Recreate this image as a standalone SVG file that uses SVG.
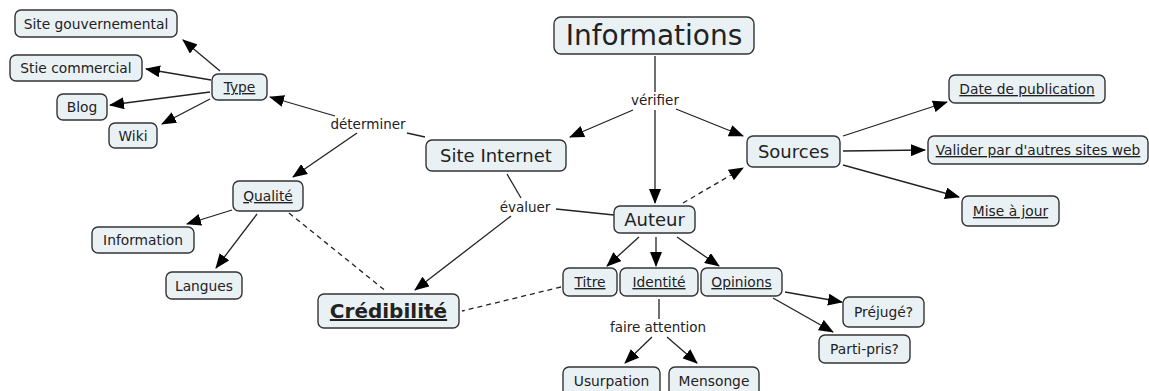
<svg xmlns="http://www.w3.org/2000/svg" width="1149" height="391" viewBox="0 0 1149 391">
<style>
.n rect{fill:#eaf1f5;stroke:#333;stroke-width:1.4}
text{font-family:"DejaVu Sans",Verdana,sans-serif;fill:#222;text-anchor:middle}
.s{font-size:13.8px}
.u{text-decoration:underline}
.m{font-size:18px}
.lbl{font-size:13.5px;fill:#222}
.c line,.c path{stroke:#222;stroke-width:1.3;fill:none}
.c .a{marker-end:url(#ah)}
.c .d{stroke-dasharray:5,4}
</style>
<defs>
<marker id="ah" markerUnits="userSpaceOnUse" markerWidth="15" markerHeight="12" viewBox="0 0 15 12" refX="14" refY="6" orient="auto">
<path d="M0,0 L15,6 L0,12 Z" fill="#000"/>
</marker>
</defs>
<rect width="1149" height="391" fill="#fff"/>
<g id="connectors" class="c">
<line x1="655" y1="56" x2="655" y2="92"/>
<line class="a" x1="633" y1="110" x2="570" y2="137"/>
<line class="a" x1="676" y1="109" x2="743" y2="136"/>
<line class="a" x1="655" y1="110" x2="655" y2="203"/>
<line x1="425" y1="137" x2="407" y2="133"/>
<line class="a" x1="335" y1="116" x2="270" y2="97"/>
<line class="a" x1="357" y1="133" x2="293" y2="177"/>
<line class="a" x1="220" y1="71" x2="183" y2="40"/>
<line class="a" x1="211" y1="80" x2="146" y2="69"/>
<line class="a" x1="210" y1="92" x2="110" y2="105"/>
<line class="a" x1="210" y1="99" x2="162" y2="124"/>
<line class="a" x1="232" y1="210" x2="187" y2="224"/>
<line class="a" x1="257" y1="214" x2="216" y2="268"/>
<line class="d" x1="289" y1="213" x2="387" y2="292"/>
<line x1="507" y1="174" x2="521" y2="198"/>
<line x1="556" y1="209" x2="614" y2="215"/>
<line class="a" x1="511" y1="216" x2="415" y2="290"/>
<line class="a d" x1="683" y1="203" x2="743" y2="168"/>
<line class="a" x1="843" y1="136" x2="947" y2="102"/>
<line class="a" x1="843" y1="151" x2="925" y2="150"/>
<line class="a" x1="843" y1="165" x2="959" y2="197"/>
<line class="a" x1="639" y1="237" x2="607" y2="266"/>
<line class="a" x1="656" y1="237" x2="656" y2="266"/>
<line class="a" x1="677" y1="237" x2="719" y2="266"/>
<line class="d" x1="561" y1="287" x2="462" y2="311"/>
<line class="a" x1="785" y1="292" x2="842" y2="302"/>
<line class="a" x1="773" y1="298" x2="833" y2="332"/>
<line x1="659" y1="299" x2="659" y2="319"/>
<line class="a" x1="652" y1="337" x2="625" y2="363"/>
<line class="a" x1="667" y1="337" x2="697" y2="363"/>
</g>
<g id="labels">
<text class="lbl" x="655" y="105">vérifier</text>
<text class="lbl" x="368" y="129">déterminer</text>
<text class="lbl" x="525" y="212">évaluer</text>
<text class="lbl" x="658" y="332">faire attention</text>
</g>
<g id="n-gouv" class="n"><rect x="15" y="10" width="162" height="27" rx="6"/><text class="s" x="96" y="28.5">Site gouvernemental</text></g>
<g id="n-comm" class="n"><rect x="10" y="55" width="132" height="26" rx="6"/><text class="s" x="76" y="73">Stie commercial</text></g>
<g id="n-type" class="n"><rect x="212" y="74" width="55" height="26" rx="6"/><text class="s u" x="239.5" y="92">Type</text></g>
<g id="n-blog" class="n"><rect x="57" y="94" width="50" height="26" rx="6"/><text class="s" x="82" y="112">Blog</text></g>
<g id="n-wiki" class="n"><rect x="109" y="123" width="48" height="25" rx="6"/><text class="s" x="133" y="140.5">Wiki</text></g>
<g id="n-qualite" class="n"><rect x="233" y="181" width="70" height="30" rx="6"/><text class="s u" x="268" y="201">Qualité</text></g>
<g id="n-information" class="n"><rect x="92" y="227" width="102" height="26" rx="6"/><text class="s" x="143" y="245">Information</text></g>
<g id="n-langues" class="n"><rect x="166" y="272" width="76" height="27" rx="6"/><text class="s" x="204" y="290.5">Langues</text></g>
<g id="n-credibilite" class="n"><rect x="318" y="294" width="141" height="34" rx="6"/><text class="u" x="388.5" y="318" style="font-size:20px;font-weight:bold">Crédibilité</text></g>
<g id="n-informations" class="n"><rect x="554" y="17" width="200" height="37" rx="7"/><text x="654" y="45" style="font-size:28px">Informations</text></g>
<g id="n-site" class="n"><rect x="426" y="140" width="140" height="31" rx="6"/><text class="m" x="496" y="162">Site Internet</text></g>
<g id="n-sources" class="n"><rect x="747" y="136" width="93" height="31" rx="6"/><text class="m" x="793.5" y="158">Sources</text></g>
<g id="n-date" class="n"><rect x="949" y="75" width="156" height="28" rx="6"/><text class="s u" x="1027" y="94">Date de publication</text></g>
<g id="n-valider" class="n"><rect x="928" y="136" width="220" height="28" rx="6"/><text class="s u" x="1038" y="155">Valider par d'autres sites web</text></g>
<g id="n-mise" class="n"><rect x="962" y="196" width="97" height="30" rx="6"/><text class="s u" x="1010.5" y="216">Mise à jour</text></g>
<g id="n-auteur" class="n"><rect x="614" y="206" width="81" height="27" rx="6"/><text class="m" x="654.5" y="226">Auteur</text></g>
<g id="n-titre" class="n"><rect x="563" y="268" width="54" height="28" rx="6"/><text class="s u" x="590" y="287">Titre</text></g>
<g id="n-identite" class="n"><rect x="620" y="268" width="78" height="28" rx="6"/><text class="s u" x="659" y="287">Identité</text></g>
<g id="n-opinions" class="n"><rect x="701" y="268" width="81" height="28" rx="6"/><text class="s u" x="741.5" y="287">Opinions</text></g>
<g id="n-prejuge" class="n"><rect x="843" y="297" width="81" height="30" rx="6"/><text class="s" x="883.5" y="317">Préjugé?</text></g>
<g id="n-partipris" class="n"><rect x="819" y="335" width="91" height="28" rx="6"/><text class="s" x="864.5" y="354">Parti-pris?</text></g>
<g id="n-usurpation" class="n"><rect x="563" y="367" width="97" height="30" rx="6"/><text class="s" x="611.5" y="385.5">Usurpation</text></g>
<g id="n-mensonge" class="n"><rect x="669" y="367" width="90" height="30" rx="6"/><text class="s" x="714" y="385.5">Mensonge</text></g>
</svg>
